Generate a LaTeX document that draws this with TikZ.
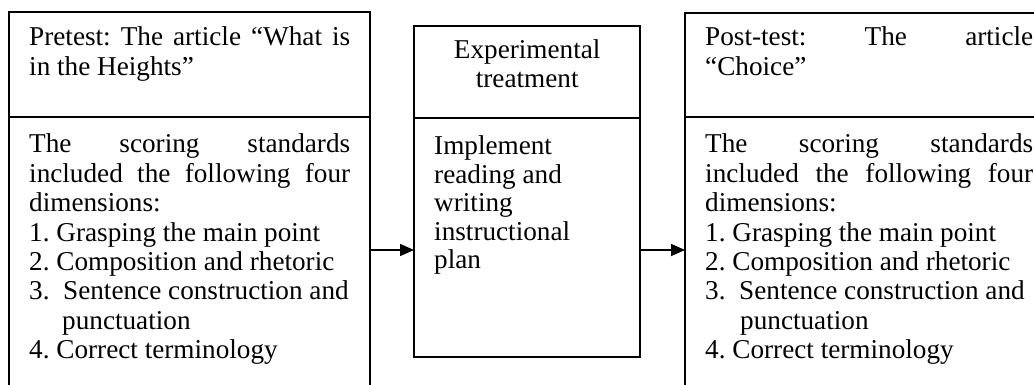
\documentclass[tikz,border=0pt]{standalone}
\usepackage{fontspec}
\setmainfont{Liberation Serif}
\usetikzlibrary{arrows.meta}
\frenchspacing
\begin{document}
\begin{tikzpicture}[x=1pt,y=-1pt,
  box/.style={draw, line width=1.6pt, rectangle, anchor=north west, inner sep=0pt, outer sep=0pt},
  txt/.style={anchor=base west, inner sep=0pt, font=\fontsize{27.2}{29.4}\selectfont},
  midtxt/.style={anchor=base west, inner sep=0pt, font=\fontsize{27.2}{28.4}\selectfont},
  arr/.style={line width=1.6pt, -{Triangle[length=14pt,width=12pt]}}]
\useasboundingbox (0,0) rectangle (1034,385);
\clip (0,0) rectangle (1034,385);
% boxes
\node[box, minimum width=361pt, minimum height=105pt] (pretop) at (9,12) {};
\node[box, minimum width=361pt, minimum height=303pt] (prebody) at (9,117) {};
\node[box, minimum width=226pt, minimum height=92pt] (midtop) at (414,26) {};
\node[box, minimum width=226pt, minimum height=239pt] (midbody) at (414,118) {};
\node[box, minimum width=375pt, minimum height=104pt] (posttop) at (685,13) {};
\node[box, minimum width=375pt, minimum height=303pt] (postbody) at (685,117) {};
% texts
\node[txt] (pretitle) at (29,46) {\parbox[t]{321pt}{Pretest: The article “What is\linebreak in the Heights”}};
\node[txt] (pretext) at (29,153) {\parbox[t]{321pt}{The scoring standards\linebreak included the following four\linebreak dimensions:\\
1. Grasping the main point\\
2. Composition and rhetoric\\
3.\ \ Sentence construction and\\
\hspace*{33pt}punctuation\\
4. Correct terminology}};
\node[midtxt] (midtitle) at (414,59) {\parbox[t]{226pt}{\centering Experimental\\treatment}};
\node[midtxt] (midtext) at (434,155) {\parbox[t]{200pt}{\raggedright Implement\\reading and\\writing\\instructional\\plan}};
\node[txt] (posttitle) at (705,46) {\parbox[t]{328pt}{Post-test: The article\linebreak “Choice”}};
\node[txt] (posttext) at (705,153) {\parbox[t]{328pt}{The scoring standards\linebreak included the following four\linebreak dimensions:\\
1. Grasping the main point\\
2. Composition and rhetoric\\
3.\ \ Sentence construction and\\
\hspace*{35pt}punctuation\\
4. Correct terminology}};
% arrows
\coordinate (ay) at (0,250);
\draw[arr] (prebody.east |- ay) -- (midbody.west |- ay);
\draw[arr] (midbody.east |- ay) -- (postbody.west |- ay);
\end{tikzpicture}
\end{document}
